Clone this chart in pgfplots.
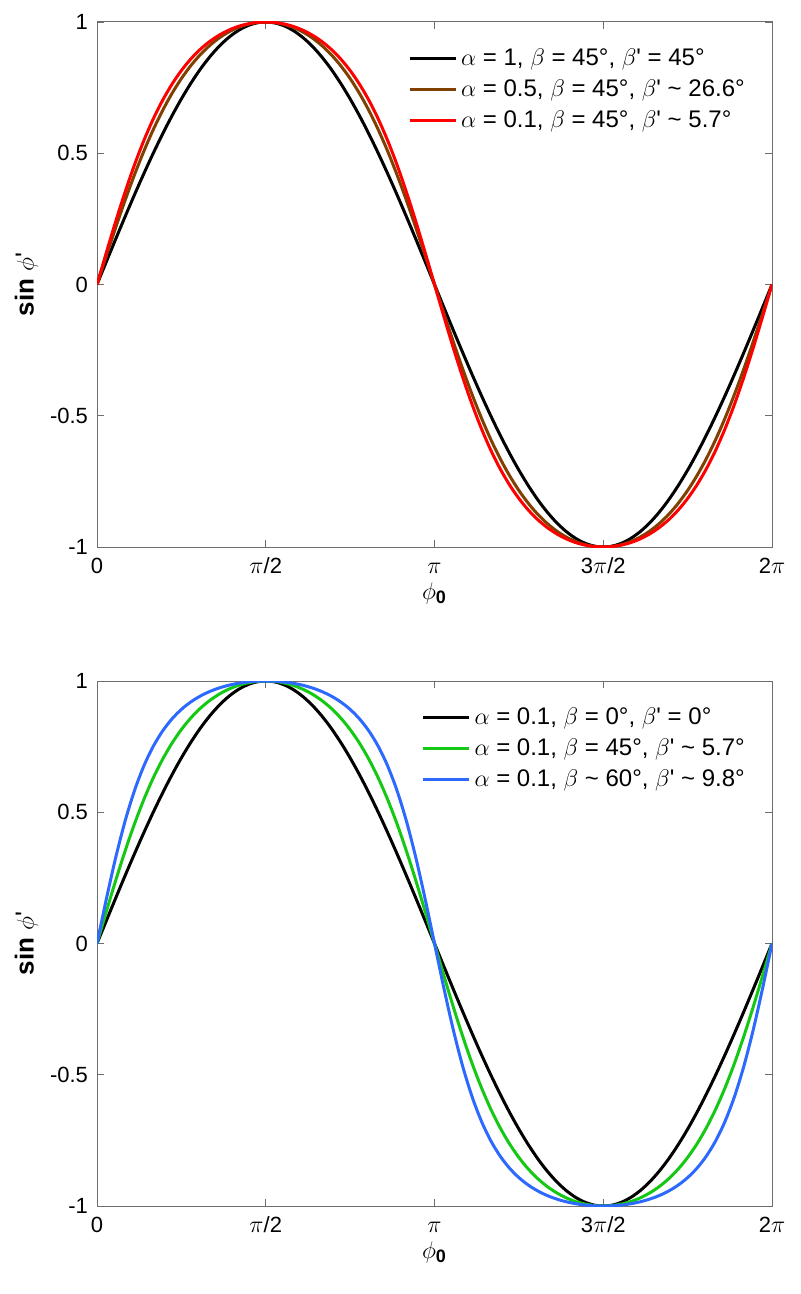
\documentclass[border=0pt]{standalone}
\usepackage{fontspec}
\setmainfont{Liberation Sans}
\usepackage{pgfplots}
\usepackage{pgfplotstable}
\pgfplotsset{compat=1.18}

\definecolor{cBrown}{RGB}{128,64,0}
\definecolor{cRed}{RGB}{255,0,0}
\definecolor{cGreen}{RGB}{20,200,20}
\definecolor{cBlue}{RGB}{45,105,255}
\definecolor{axGray}{RGB}{110,110,110}

% x = phi_0 in degrees; s = sin; a: alpha 0.5, beta 45
% b: alpha 0.1, beta 45; c: alpha 0.1, beta 60
\pgfplotstableread{
x s a b c
0 0 0 0 0
5 0.0872 0.1100 0.1222 0.1699
10 0.1736 0.2177 0.2408 0.3282
15 0.2588 0.3210 0.3528 0.4669
20 0.3420 0.4182 0.4559 0.5828
25 0.4226 0.5080 0.5486 0.6766
30 0.5000 0.5898 0.6306 0.7511
35 0.5736 0.6630 0.7019 0.8097
40 0.6428 0.7278 0.7631 0.8557
45 0.7071 0.7845 0.8151 0.8918
50 0.7660 0.8333 0.8589 0.9201
55 0.8192 0.8749 0.8953 0.9423
60 0.8660 0.9097 0.9252 0.9597
65 0.9063 0.9383 0.9492 0.9731
70 0.9397 0.9610 0.9681 0.9834
75 0.9659 0.9783 0.9824 0.9909
80 0.9848 0.9904 0.9922 0.9960
85 0.9962 0.9976 0.9981 0.9990
90 1 1 1 1
95 0.9962 0.9976 0.9981 0.9990
100 0.9848 0.9904 0.9922 0.9960
105 0.9659 0.9783 0.9824 0.9909
110 0.9397 0.9610 0.9681 0.9834
115 0.9063 0.9383 0.9492 0.9731
120 0.8660 0.9097 0.9252 0.9597
125 0.8192 0.8749 0.8953 0.9423
130 0.7660 0.8333 0.8589 0.9201
135 0.7071 0.7845 0.8151 0.8918
140 0.6428 0.7278 0.7631 0.8557
145 0.5736 0.6630 0.7019 0.8097
150 0.5000 0.5898 0.6306 0.7511
155 0.4226 0.5080 0.5486 0.6766
160 0.3420 0.4182 0.4559 0.5828
165 0.2588 0.3210 0.3528 0.4669
170 0.1736 0.2177 0.2408 0.3282
175 0.0872 0.1100 0.1222 0.1699
180 0 0 0 0
185 -0.0872 -0.1100 -0.1222 -0.1699
190 -0.1736 -0.2177 -0.2408 -0.3282
195 -0.2588 -0.3210 -0.3528 -0.4669
200 -0.3420 -0.4182 -0.4559 -0.5828
205 -0.4226 -0.5080 -0.5486 -0.6766
210 -0.5000 -0.5898 -0.6306 -0.7511
215 -0.5736 -0.6630 -0.7019 -0.8097
220 -0.6428 -0.7278 -0.7631 -0.8557
225 -0.7071 -0.7845 -0.8151 -0.8918
230 -0.7660 -0.8333 -0.8589 -0.9201
235 -0.8192 -0.8749 -0.8953 -0.9423
240 -0.8660 -0.9097 -0.9252 -0.9597
245 -0.9063 -0.9383 -0.9492 -0.9731
250 -0.9397 -0.9610 -0.9681 -0.9834
255 -0.9659 -0.9783 -0.9824 -0.9909
260 -0.9848 -0.9904 -0.9922 -0.9960
265 -0.9962 -0.9976 -0.9981 -0.9990
270 -1 -1 -1 -1
275 -0.9962 -0.9976 -0.9981 -0.9990
280 -0.9848 -0.9904 -0.9922 -0.9960
285 -0.9659 -0.9783 -0.9824 -0.9909
290 -0.9397 -0.9610 -0.9681 -0.9834
295 -0.9063 -0.9383 -0.9492 -0.9731
300 -0.8660 -0.9097 -0.9252 -0.9597
305 -0.8192 -0.8749 -0.8953 -0.9423
310 -0.7660 -0.8333 -0.8589 -0.9201
315 -0.7071 -0.7845 -0.8151 -0.8918
320 -0.6428 -0.7278 -0.7631 -0.8557
325 -0.5736 -0.6630 -0.7019 -0.8097
330 -0.5000 -0.5898 -0.6306 -0.7511
335 -0.4226 -0.5080 -0.5486 -0.6766
340 -0.3420 -0.4182 -0.4559 -0.5828
345 -0.2588 -0.3210 -0.3528 -0.4669
350 -0.1736 -0.2177 -0.2408 -0.3282
355 -0.0872 -0.1100 -0.1222 -0.1699
360 0 0 0 0
}\curves

\newcommand{\bp}{$\beta$\textquotesingle}
\newcommand{\PI}{$\mathsurround=0pt\hbox{\fontsize{13}{13}\selectfont$\pi$}$}

\pgfplotsset{
  sinax/.style={
    scale only axis,
    width=337.5pt, height=262.5pt,
    xmin=0, xmax=360, ymin=-1, ymax=1,
    xtick={0,90,180,270,360},
    xticklabels={0,\PI/2,\PI,3\PI/2,2\PI},
    ytick={-1,-0.5,0,0.5,1},
    yticklabels={-1,-0.5,0,0.5,1},
    tick align=inside,
    major tick length=3.5pt,
    tick style={axGray, line width=0.4pt},
    axis line style={axGray, line width=0.5pt},
    tick label style={font=\fontsize{11}{13}\selectfont},
    xticklabel style={yshift=-1.5pt, text height=8pt},
    yticklabel style={xshift=-1pt},
    xlabel={$\phi_{\hbox{\fontsize{9}{10}\selectfont\bfseries 0}}$},
    ylabel={\textbf{sin} $\phi$\textquotesingle},
    label style={font=\fontsize{13}{15}\selectfont},
    xlabel style={yshift=2pt},
    ylabel style={yshift=-1pt},
    every axis plot/.append style={line width=1.5pt, smooth, no markers},
    legend cell align=left,
    legend style={at={(0.975,0.965)}, anchor=north east, draw=none, fill=none,
      font=\fontsize{12}{14}\selectfont, row sep=1.5pt},
    legend image code/.code={\draw[##1, line width=1.5pt] (0pt,0pt) -- (23pt,0pt);},
  }
}

\begin{document}
\begin{tikzpicture}
\path[use as bounding box] (0pt,0pt) rectangle (400pt,-647pt);

\begin{axis}[sinax, at={(48.5pt,-273.5pt)}, anchor=south west]
\addplot[black] table[x=x, y=s] {\curves};
\addlegendentry{$\alpha$ = 1, $\beta$ = 45°, \bp{} = 45°}
\addplot[cBrown] table[x=x, y=a] {\curves};
\addlegendentry{$\alpha$ = 0.5, $\beta$ = 45°, \bp{} \textasciitilde{} 26.6°}
\addplot[cRed] table[x=x, y=b] {\curves};
\addlegendentry{$\alpha$ = 0.1, $\beta$ = 45°, \bp{} \textasciitilde{} 5.7°}
\end{axis}

\begin{axis}[sinax, at={(48.5pt,-603pt)}, anchor=south west]
\addplot[black] table[x=x, y=s] {\curves};
\addlegendentry{$\alpha$ = 0.1, $\beta$ = 0°, \bp{} = 0°}
\addplot[cGreen] table[x=x, y=b] {\curves};
\addlegendentry{$\alpha$ = 0.1, $\beta$ = 45°, \bp{} \textasciitilde{} 5.7°}
\addplot[cBlue] table[x=x, y=c] {\curves};
\addlegendentry{$\alpha$ = 0.1, $\beta$ \textasciitilde{} 60°, \bp{} \textasciitilde{} 9.8°}
\end{axis}
\end{tikzpicture}
\end{document}
